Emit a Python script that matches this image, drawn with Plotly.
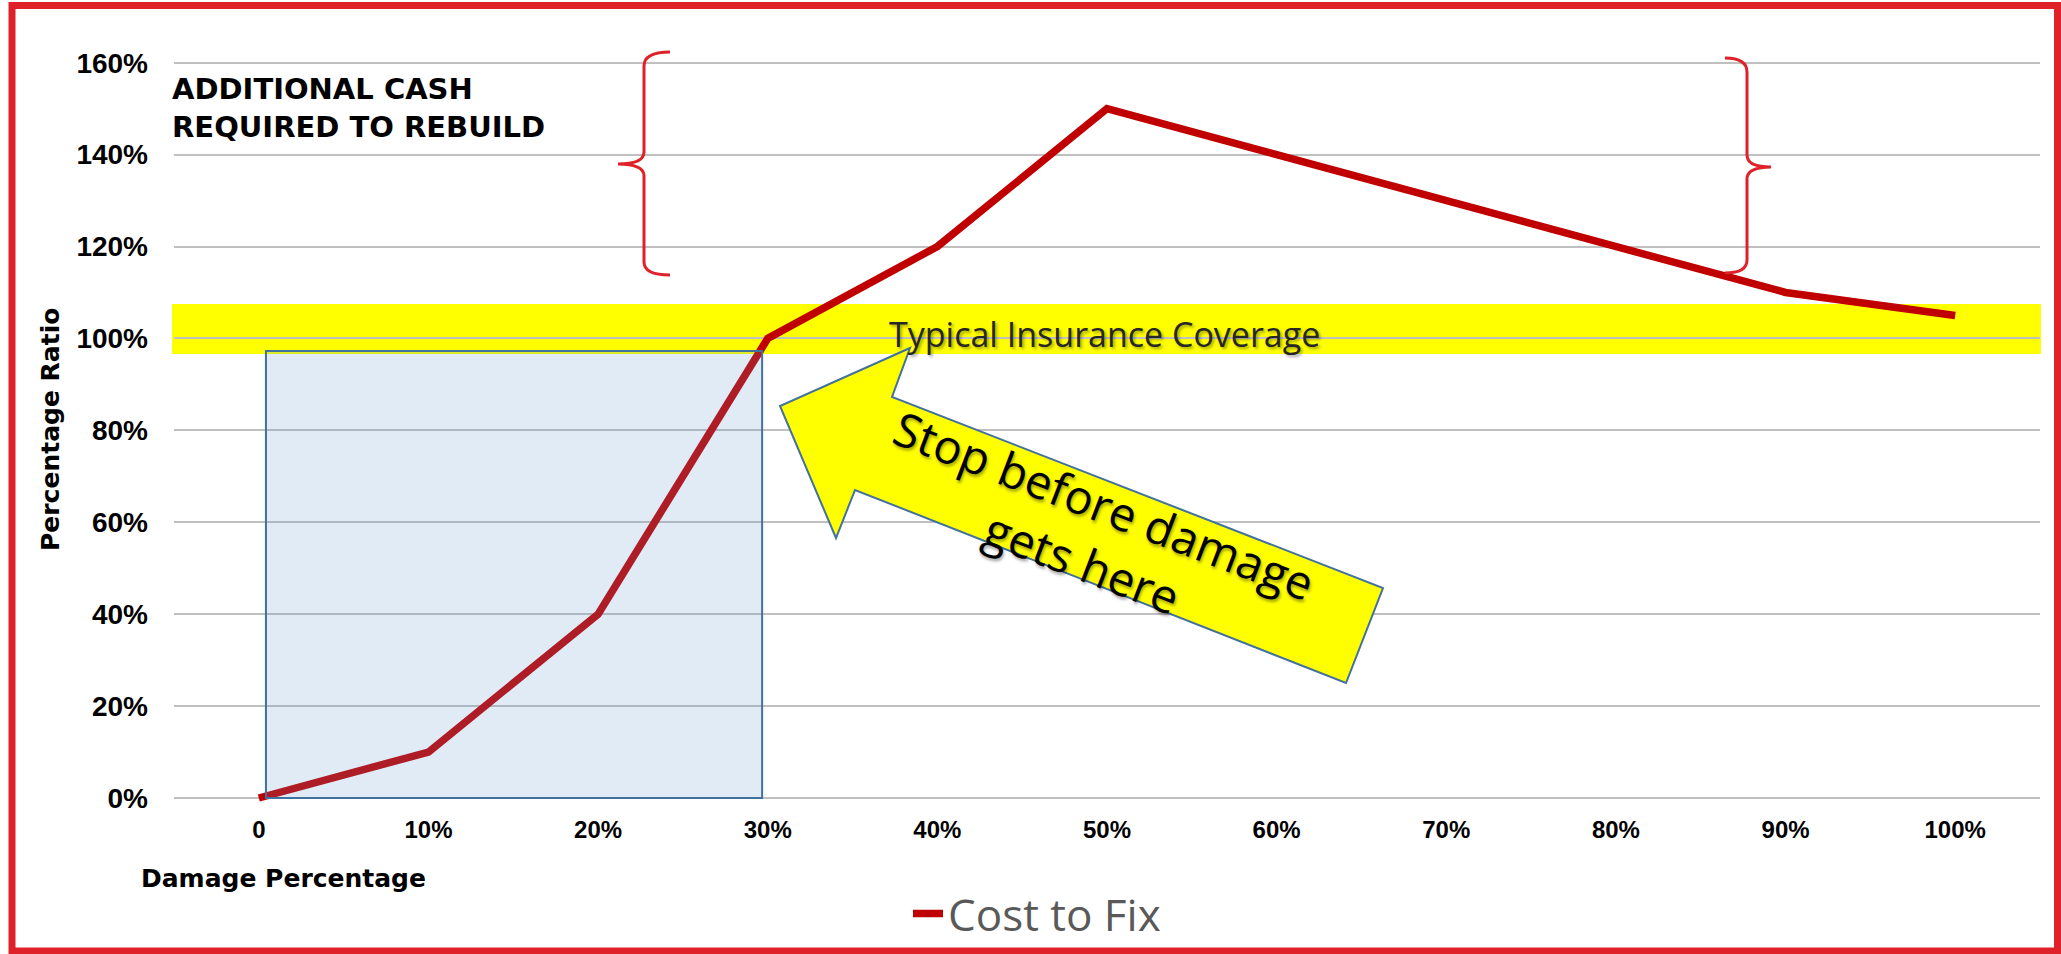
import plotly.graph_objects as go

# ---- data ----
damage_labels = ["0", "10%", "20%", "30%", "40%", "50%", "60%", "70%", "80%", "90%", "100%"]
cost_to_fix = [0.00, 0.10, 0.40, 1.00, 1.20, 1.50, 1.40, 1.30, 1.20, 1.10, 1.05]
y_ticks = [0.0, 0.2, 0.4, 0.6, 0.8, 1.0, 1.2, 1.4, 1.6]
y_tick_labels = ["0%", "20%", "40%", "60%", "80%", "100%", "120%", "140%", "160%"]
coverage_band = [0.966, 1.075]      # typical insurance coverage band (ratio)
safe_zone = [0.042, 2.967, 0.0, 0.9727]  # x0, x1 (category positions), y0, y1

W, H = 2061, 954
ML, MR, MT, MB = 174, 21, 40, 144
PW, PH = W - ML - MR, H - MT - MB


def px(x):
    return (x - ML) / PW


def py(y):
    return (H - MB - y) / PH


RED = "#C00000"
BORDER = "#DF2229"
BLUE_LINE = "#41719C"
AXFONT = "DejaVu Sans"
TICKFONT = "Liberation Sans"

fig = go.Figure()
fig.add_trace(go.Scatter(
    x=damage_labels, y=cost_to_fix, mode="lines", name="Cost to Fix",
    line=dict(color=RED, width=7.5),
))

shapes = []
# yellow coverage band
shapes.append(dict(type="rect", xref="paper", yref="y", x0=px(172), x1=px(2041),
                   y0=coverage_band[0], y1=coverage_band[1],
                   fillcolor="#FFFF00", line=dict(width=0), layer="below"))
# blue safe-zone rectangle (semi transparent, above line)
shapes.append(dict(type="rect", xref="x", yref="y", x0=safe_zone[0], x1=safe_zone[1],
                   y0=safe_zone[2], y1=safe_zone[3],
                   fillcolor="rgba(97,150,202,0.19)", line=dict(color=BLUE_LINE, width=2),
                   layer="above"))

# left brace "{"
lb = ("M {a},{b} Q {c},{d} {c},{e} L {c},{f} Q {c},{g} {h},{g} Q {c},{g} {c},{i} "
      "L {c},{j} Q {c},{k} {a},{k}").format(
    a=px(670), b=py(52), c=px(644), d=py(52), e=py(66), f=py(152), g=py(164),
    h=px(618), i=py(176), j=py(262), k=py(275))
shapes.append(dict(type="path", xref="paper", yref="paper", path=lb,
                   line=dict(color=BORDER, width=3)))
# right brace "}"
rb = ("M {a},{b} Q {c},{b} {c},{e} L {c},{f} Q {c},{g} {h},{g} Q {c},{g} {c},{i} "
      "L {c},{j} Q {c},{k} {a},{k}").format(
    a=px(1725), b=py(58), c=px(1747), e=py(72), f=py(155), g=py(167),
    h=px(1771), i=py(179), j=py(260), k=py(273))
shapes.append(dict(type="path", xref="paper", yref="paper", path=rb,
                   line=dict(color=BORDER, width=3)))

# yellow arrow
arrow_pts = [(910, 348), (780, 406), (836, 538), (855, 490), (1346, 683), (1383, 588), (892, 397)]
ap = "M " + " L ".join("{:.5f},{:.5f}".format(px(x), py(y)) for x, y in arrow_pts) + " Z"
shapes.append(dict(type="path", xref="paper", yref="paper", path=ap,
                   fillcolor="#FFFF00", line=dict(color=BLUE_LINE, width=2), layer="above"))

# outer red border
shapes.append(dict(type="rect", xref="paper", yref="paper",
                   x0=px(12), x1=px(2057.5), y0=py(951), y1=py(5.5),
                   line=dict(color=BORDER, width=7), fillcolor="rgba(0,0,0,0)"))

annotations = [
    dict(text="ADDITIONAL CASH<br>REQUIRED TO REBUILD", xref="paper", yref="paper",
         x=px(170), y=py(70), xanchor="left", yanchor="top", align="left", showarrow=False,
         font=dict(family=AXFONT, size=29, color="black", weight="bold")),
    dict(text="Typical Insurance Coverage", xref="paper", yref="paper",
         x=px(1104), y=py(334), xanchor="center", yanchor="middle", showarrow=False,
         font=dict(family="Open Sans", size=34, color="#262626",
                   shadow="2px 2px 3px rgba(0,0,0,0.35)")),
    dict(text="Stop before damage<br>gets here", xref="paper", yref="paper",
         x=px(1093), y=py(533), xanchor="center", yanchor="middle", showarrow=False,
         textangle=21, align="center",
         font=dict(family="Open Sans", size=47, color="black",
                   shadow="2px 2px 3px rgba(0,0,0,0.35)")),
    dict(text="Damage Percentage", xref="paper", yref="paper",
         x=px(139), y=py(878), xanchor="left", yanchor="middle", showarrow=False,
         font=dict(family=AXFONT, size=25, color="black", weight="bold")),
    dict(text="Percentage Ratio", xref="paper", yref="paper",
         x=px(50), y=py(430), xanchor="center", yanchor="middle", showarrow=False,
         textangle=-90,
         font=dict(family=AXFONT, size=25, color="black", weight="bold")),
]

pu = (798 - 62.7) / 1.6
ymin = -(H - MB - 798) / pu
ymax = ymin + PH / pu

fig.update_layout(
    width=W, height=H, autosize=False,
    margin=dict(l=ML, r=MR, t=MT, b=MB),
    paper_bgcolor="white", plot_bgcolor="white",
    shapes=shapes, annotations=annotations,
    showlegend=True,
    legend=dict(orientation="h", xref="container", yref="container",
                x=1037 / W, xanchor="center", y=1 - 914 / H, yanchor="middle",
                font=dict(family="Open Sans", size=44, color="#595959"),
                bgcolor="rgba(0,0,0,0)"),
    xaxis=dict(type="category", categoryorder="array", categoryarray=damage_labels,
               range=[-0.5, len(damage_labels) - 0.5], showgrid=False, zeroline=False,
               showline=False, ticks="", ticklabelstandoff=3,
               tickfont=dict(family=TICKFONT, size=24, color="black", weight="bold")),
    yaxis=dict(range=[ymin, ymax], tickvals=y_ticks, ticktext=y_tick_labels,
               showgrid=True, gridcolor="#C0C0C0", gridwidth=2, zeroline=False,
               showline=False, ticks="", ticklabelstandoff=25,
               tickfont=dict(family=TICKFONT, size=28, color="black", weight="bold")),
)

fig.write_html("out.html", config={"displayModeBar": False},
               post_script="document.body.style.margin='0';document.body.style.overflow='hidden';")
